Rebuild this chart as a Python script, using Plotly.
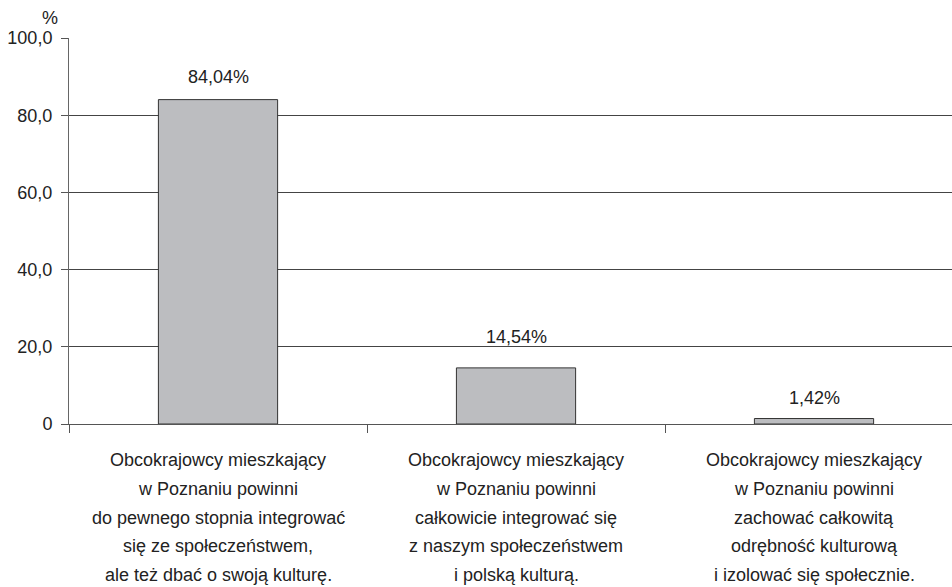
import plotly.graph_objects as go

categories = ["A", "B", "C"]
label_lines = [
    ["Obcokrajowcy mieszkający", "w Poznaniu powinni", "do pewnego stopnia integrować",
     "się ze społeczeństwem,", "ale też dbać o swoją kulturę."],
    ["Obcokrajowcy mieszkający", "w Poznaniu powinni", "całkowicie integrować się",
     "z naszym społeczeństwem", "i polską kulturą."],
    ["Obcokrajowcy mieszkający", "w Poznaniu powinni", "zachować całkowitą",
     "odrębność kulturową", "i izolować się społecznie."],
]
values = [84.04, 14.54, 1.42]
value_labels = ["84,04%", "14,54%", "1,42%"]
y_tickvals = [0, 20, 40, 60, 80, 100]
y_ticktext = ["0", "20,0", "40,0", "60,0", "80,0", "100,0"]

FONT = "Liberation Sans, Arial, sans-serif"
TXT = "#222222"
FS = 18
label_offsets = [23, 31, 21]  # pixel gap of each value label above its bar

fig = go.Figure()
fig.add_trace(go.Bar(
    x=categories, y=values, width=0.4,
    marker=dict(color="#bcbdc0", line=dict(color="#333333", width=1)),
    hoverinfo="skip",
))

annotations = []
for c, v, t, off in zip(categories, values, value_labels, label_offsets):
    annotations.append(dict(x=c, y=v, xref="x", yref="y", text=t, showarrow=False,
                            yanchor="middle", yshift=off, font=dict(size=FS, color=TXT, family=FONT)))
for c, lines in zip(categories, label_lines):
    for i, line in enumerate(lines):
        annotations.append(dict(x=c, y=0, xref="x", yref="paper", text=line, showarrow=False,
                                yanchor="middle", yshift=-36 - i * 28.8,
                                font=dict(size=FS, color=TXT, family=FONT)))
annotations.append(dict(x=0, y=1, xref="paper", yref="paper", text="%", showarrow=False,
                        xanchor="center", yanchor="middle", xshift=-19, yshift=20,
                        font=dict(size=FS, color=TXT, family=FONT)))

fig.update_layout(
    width=952, height=587,
    margin=dict(l=69, r=0, t=38, b=163),
    paper_bgcolor="white", plot_bgcolor="white",
    showlegend=False,
    font=dict(family=FONT, size=FS, color=TXT),
    annotations=annotations,
    xaxis=dict(
        type="category", range=[-0.5, 2.463], tickson="boundaries",
        ticks="outside", ticklen=8, tickcolor="#555555", tickwidth=1,
        showticklabels=False, showgrid=False,
        showline=True, linecolor="#555555", linewidth=1,
    ),
    yaxis=dict(
        range=[0, 100], tickvals=y_tickvals, ticktext=y_ticktext,
        ticks="outside", ticklen=7, tickcolor="#555555", ticklabelstandoff=5,
        showgrid=True, gridcolor="#444444", gridwidth=1,
        showline=True, linecolor="#666666", linewidth=1,
        zeroline=False, tickfont=dict(size=FS, color=TXT, family=FONT),
    ),
)

fig.write_html("out.html", config={"displayModeBar": False})

# remove the default page margin so the figure fills the 952x587 window exactly
with open("out.html", encoding="utf-8") as f:
    html = f.read()
html = html.replace("<body>", '<body style="margin:0;overflow:hidden">', 1)
with open("out.html", "w", encoding="utf-8") as f:
    f.write(html)
